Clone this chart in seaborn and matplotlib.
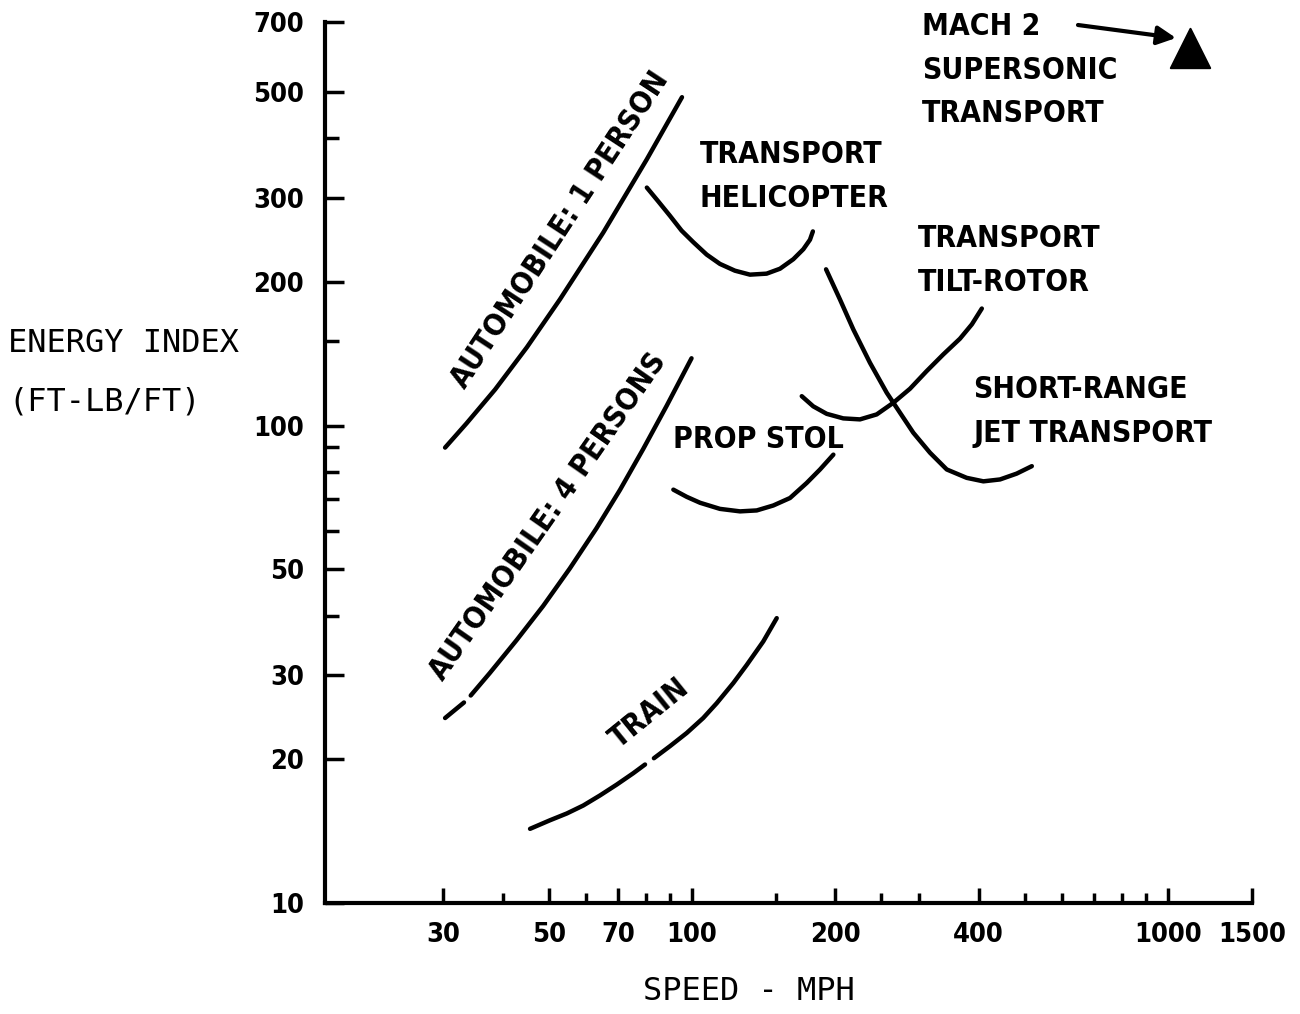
import numpy as np
import pandas as pd
import matplotlib
matplotlib.use("Agg")
import matplotlib.pyplot as plt
import seaborn as sns
from matplotlib.font_manager import FontProperties

# ---------------- data ----------------
auto1_speed = [30.3, 33.6, 38.6, 45.0, 52.8, 65.1, 80.4, 95.3]
auto1_energy = [89.9, 101.0, 119.0, 145.8, 183.7, 253.5, 361.1, 487.1]

auto4a_speed = [30.3, 33.2]
auto4a_energy = [24.4, 26.3]
auto4b_speed = [34.3, 37.6, 42.8, 48.7, 55.4, 63.0, 70.6, 79.0, 88.5, 99.8]
auto4b_energy = [27.2, 30.3, 35.5, 41.9, 50.2, 60.9, 73.3, 89.3, 110.0, 138.3]

train_a_speed = [45.7, 50.3, 54.6, 59.1, 64.1, 69.5, 75.3, 79.7]
train_a_energy = [14.3, 14.9, 15.4, 16.0, 16.8, 17.7, 18.7, 19.5]
train_b_speed = [83.2, 89.9, 97.5, 105.6, 112.7, 122.2, 130.3, 141.2, 150.7]
train_b_energy = [20.1, 21.3, 22.7, 24.4, 26.2, 28.9, 31.5, 35.3, 39.5]

heli_speed = [80.4, 84.9, 89.9, 95.1, 100.7, 107.4, 114.5, 123.1, 132.4,
              143.5, 153.1, 163.3, 171.4, 177.0, 179.5]
heli_energy = [315, 295, 275, 256, 242, 228, 218, 211, 207,
               208, 213, 223, 234, 245, 255]

stol_speed = [91.4, 97.5, 104.0, 114.5, 126.2, 136.8, 148.2, 160.7, 174.2, 185.8, 198.2]
stol_energy = [73.4, 70.9, 68.9, 66.9, 66.1, 66.4, 68.0, 70.5, 75.8, 80.9, 86.9]

tilt_speed = [170.1, 179.8, 191.9, 207.9, 225.4, 244.4, 264.9, 287.1, 311.2,
              337.3, 365.6, 387.3, 406.4]
tilt_energy = [115.2, 109.7, 105.8, 103.5, 103.0, 105.5, 111.6, 119.4, 130.0,
               140.9, 152.0, 162.9, 175.8]

jet_speed = [191.3, 204.6, 218.3, 236.6, 256.6, 273.5, 291.7, 316.3, 343.0,
             377.7, 409.5, 443.8, 481.0, 517.6]
jet_energy = [212.4, 183.7, 158.9, 135.3, 117.1, 106.4, 96.6, 87.7, 80.9,
              77.7, 76.4, 77.1, 79.3, 82.2]

sst_speed = [1112]
sst_energy = [618]

x_major = [30, 50, 70, 100, 200, 400, 1000, 1500]
x_major_labels = ["30", "50", "70", "100", "200", "400", "1000", "1500"]
x_minor = [40, 60, 80, 90, 150, 250, 300, 500, 600, 700, 800, 900]
y_major = [10, 20, 30, 50, 100, 200, 300, 500, 700]
y_major_labels = ["10", "20", "30", "50", "100", "200", "300", "500", "700"]
y_minor = [40, 60, 70, 80, 90, 150, 400]

curves = {
    "auto1": (auto1_speed, auto1_energy),
    "auto4a": (auto4a_speed, auto4a_energy),
    "auto4b": (auto4b_speed, auto4b_energy),
    "train_a": (train_a_speed, train_a_energy),
    "train_b": (train_b_speed, train_b_energy),
    "heli": (heli_speed, heli_energy),
    "stol": (stol_speed, stol_energy),
    "tilt": (tilt_speed, tilt_energy),
    "jet": (jet_speed, jet_energy),
}
df = pd.concat(
    [pd.DataFrame({"speed": s, "energy": e, "curve": k}) for k, (s, e) in curves.items()],
    ignore_index=True,
)

# ---------------- style ----------------
sns.set_style("ticks")
plt.rcParams["font.family"] = ["DejaVu Sans"]

W, H = 1300, 1014
fig = plt.figure(figsize=(W / 100, H / 100), dpi=100)
ax = fig.add_axes([325 / W, 1 - 903 / H, 926.8 / W, 881 / H])

for name in curves:
    sub = df[df["curve"] == name]
    sns.lineplot(data=sub, x="speed", y="energy", ax=ax, color="black",
                 linewidth=3.2, estimator=None, sort=False, legend=False,
                 solid_capstyle="round", solid_joinstyle="round")

sns.scatterplot(x=sst_speed, y=sst_energy, ax=ax, marker="^", s=800,
                color="black", edgecolor="black", linewidth=1.5, legend=False,
                clip_on=False, zorder=5)

ax.set_xscale("log")
ax.set_yscale("log")
ax.set_xlim(16.95, 1500)
ax.set_ylim(10, 700)

ax.set_xticks(x_major, x_major_labels)
ax.set_xticks(x_minor, minor=True)
ax.set_yticks(y_major, y_major_labels)
ax.set_yticks(y_minor, minor=True)
ax.xaxis.set_minor_formatter(matplotlib.ticker.NullFormatter())
ax.yaxis.set_minor_formatter(matplotlib.ticker.NullFormatter())

ax.set_xlabel("")
ax.set_ylabel("")
for side in ["top", "right"]:
    ax.spines[side].set_visible(False)
for side in ["left", "bottom"]:
    ax.spines[side].set_linewidth(3)
    ax.spines[side].set_color("black")

ax.tick_params(axis="x", which="major", direction="in", length=11, width=2.5, pad=14,
               color="black", labelcolor="black")
ax.tick_params(axis="x", which="minor", direction="in", length=7, width=2.5, color="black")
ax.tick_params(axis="y", which="major", direction="in", length=14, width=2.5, pad=15,
               color="black", labelcolor="black")
ax.tick_params(axis="y", which="minor", direction="in", length=10, width=2.5, color="black")

lab_fp = FontProperties(family=["DejaVu Sans"], weight="bold", stretch="condensed", size=21.6)
tick_fp = FontProperties(family=["DejaVu Sans"], weight="bold", stretch="condensed", size=19.5)
mono_fp = FontProperties(family=["DejaVu Sans Mono"], weight="normal", size=23)

for lbl in ax.get_xticklabels() + ax.get_yticklabels():
    lbl.set_fontproperties(tick_fp)
    lbl.set_color("black")


def ftext(x, y, s, fp, **kw):
    fig.text(x / W, 1 - y / H, s, fontproperties=fp, color="black", **kw)


# axis titles
ftext(8, 352, "ENERGY INDEX", mono_fp, ha="left", va="baseline")
ftext(8, 410, "(FT-LB/FT)", mono_fp, ha="left", va="baseline")
ftext(749, 1000, "SPEED - MPH", mono_fp, ha="center", va="baseline")

# curve labels
ftext(560, 230, "AUTOMOBILE: 1 PERSON", lab_fp, ha="center", va="center",
      rotation=56.7, rotation_mode="anchor")
ftext(548, 517, "AUTOMOBILE: 4 PERSONS", lab_fp, ha="center", va="center",
      rotation=55.1, rotation_mode="anchor")
ftext(650, 713, "TRAIN", lab_fp, ha="center", va="center",
      rotation=39, rotation_mode="anchor")

ftext(700, 163, "TRANSPORT", lab_fp, ha="left", va="baseline")
ftext(700, 207, "HELICOPTER", lab_fp, ha="left", va="baseline")
ftext(918, 247, "TRANSPORT", lab_fp, ha="left", va="baseline")
ftext(918, 291, "TILT-ROTOR", lab_fp, ha="left", va="baseline")
ftext(973, 398, "SHORT-RANGE", lab_fp, ha="left", va="baseline")
ftext(973, 442, "JET TRANSPORT", lab_fp, ha="left", va="baseline")
ftext(673, 448, "PROP STOL", lab_fp, ha="left", va="baseline")
ftext(922, 35, "MACH 2", lab_fp, ha="left", va="baseline")
ftext(922, 79, "SUPERSONIC", lab_fp, ha="left", va="baseline")
ftext(922, 122, "TRANSPORT", lab_fp, ha="left", va="baseline")

ax.annotate("", xy=(1176, H - 38), xycoords="figure pixels",
            xytext=(1078, H - 25), textcoords="figure pixels",
            arrowprops=dict(arrowstyle="-|>", color="black", lw=3,
                            mutation_scale=28, shrinkA=0, shrinkB=0))

fig.savefig("out.png", dpi=100)
